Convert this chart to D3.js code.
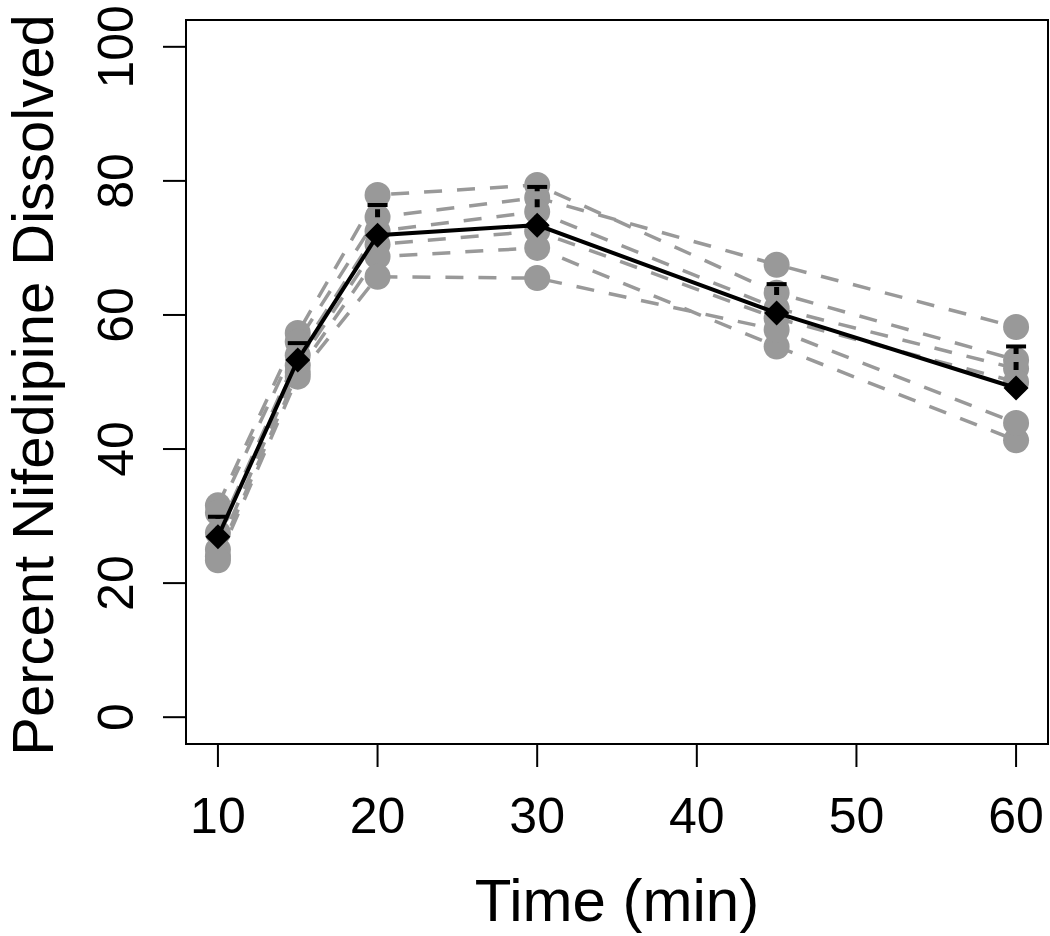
<!DOCTYPE html>
<html>
<head>
<meta charset="utf-8">
<script src="https://cdn.jsdelivr.net/npm/d3@7"></script>
<style>
  html, body { margin: 0; padding: 0; background: #fff; }
  svg { display: block; }
  text { font-family: "Liberation Sans", Arial, sans-serif; fill: #000; }
</style>
</head>
<body>
<svg id="chart" width="1050" height="936"></svg>
<script>
// ---- data ----
const times = [10, 15, 20, 30, 45, 60];
const tablet1 = [31.6, 57.3, 77.9, 79.4, 63.3, 53.3];
const tablet2 = [30.5, 56.0, 74.6, 77.5, 67.5, 58.2];
const tablet3 = [27.5, 54.0, 72.5, 75.4, 61.0, 52.0];
const tablet4 = [25.0, 52.5, 70.5, 72.5, 59.5, 50.0];
const tablet5 = [24.0, 51.5, 68.7, 70.0, 55.3, 41.3];
const tablet6 = [23.4, 50.8, 65.7, 65.5, 57.8, 43.9];
const meanPct = [26.9, 53.3, 71.9, 73.4, 60.3, 49.1];
const sdPct   = [3.0, 2.5, 4.5, 5.7, 4.3, 6.2];
const xTicks = [10, 20, 30, 40, 50, 60];
const yTicks = [0, 20, 40, 60, 80, 100];
const xTitle = "Time (min)";
const yTitle = "Percent Nifedipine Dissolved";

const tablets = [tablet1, tablet2, tablet3, tablet4, tablet5, tablet6];

(function () {
  // ---- layout ----
  const svg = d3.select("#chart");
  const pL = 186, pR = 1048, pT = 20, pB = 744;
  const x = d3.scaleLinear().domain([8, 62]).range([pL, pR]);
  const y = d3.scaleLinear().domain([-4, 104]).range([pB, pT]);

  const grey = "#999999";

  // individual tablets: dashed lines + circles
  const lineGen = d3.line().x(d => x(d[0])).y(d => y(d[1]));
  const gT = svg.append("g");
  tablets.forEach(vals => {
    const pts = times.map((t, i) => [t, vals[i]]);
    gT.append("path")
      .attr("d", lineGen(pts))
      .attr("fill", "none")
      .attr("stroke", grey)
      .attr("stroke-width", 3.5)
      .attr("stroke-dasharray", "18 15");
  });
  tablets.forEach(vals => {
    gT.selectAll(null)
      .data(times.map((t, i) => [t, vals[i]]))
      .enter().append("circle")
      .attr("cx", d => x(d[0]))
      .attr("cy", d => y(d[1]))
      .attr("r", 13)
      .attr("fill", grey);
  });

  // mean line
  const meanPts = times.map((t, i) => [t, meanPct[i]]);
  svg.append("path")
    .attr("d", lineGen(meanPts))
    .attr("fill", "none")
    .attr("stroke", "#000")
    .attr("stroke-width", 4);

  // error bars (mean to mean + SD)
  const gE = svg.append("g");
  times.forEach((t, i) => {
    const y0 = y(meanPct[i]), y1 = y(meanPct[i] + sdPct[i]);
    gE.append("line")
      .attr("x1", x(t)).attr("x2", x(t))
      .attr("y1", y0).attr("y2", y1)
      .attr("stroke", "#000").attr("stroke-width", 5)
      .attr("stroke-dasharray", "8 8").attr("stroke-dashoffset", 14);
    gE.append("line")
      .attr("x1", x(t) - 10).attr("x2", x(t) + 10)
      .attr("y1", y1).attr("y2", y1)
      .attr("stroke", "#000").attr("stroke-width", 4);
  });

  // mean diamonds
  const dsz = 12.5;
  svg.append("g").selectAll("path")
    .data(meanPts).enter().append("path")
    .attr("d", d => {
      const cx = x(d[0]), cy = y(d[1]);
      return `M${cx},${cy - dsz}L${cx + dsz},${cy}L${cx},${cy + dsz}L${cx - dsz},${cy}Z`;
    })
    .attr("fill", "#000");

  // box
  svg.append("rect")
    .attr("x", pL).attr("y", pT)
    .attr("width", pR - pL).attr("height", pB - pT)
    .attr("fill", "none").attr("stroke", "#000").attr("stroke-width", 2);

  // x axis
  const gx = svg.append("g");
  gx.selectAll("line").data(xTicks).enter().append("line")
    .attr("x1", d => x(d)).attr("x2", d => x(d))
    .attr("y1", pB).attr("y2", pB + 23)
    .attr("stroke", "#000").attr("stroke-width", 2);
  gx.selectAll("text").data(xTicks).enter().append("text")
    .attr("x", d => x(d)).attr("y", 833)
    .attr("text-anchor", "middle")
    .attr("font-size", 50)
    .text(d => d);

  // y axis
  const gy = svg.append("g");
  gy.selectAll("line").data(yTicks).enter().append("line")
    .attr("x1", pL - 23).attr("x2", pL)
    .attr("y1", d => y(d)).attr("y2", d => y(d))
    .attr("stroke", "#000").attr("stroke-width", 2);
  gy.selectAll("text").data(yTicks).enter().append("text")
    .attr("transform", d => `translate(133,${y(d)}) rotate(-90)`)
    .attr("text-anchor", "middle")
    .attr("font-size", 50)
    .text(d => d);

  // titles
  svg.append("text")
    .attr("x", (pL + pR) / 2).attr("y", 921)
    .attr("text-anchor", "middle")
    .attr("font-size", 60)
    .text(xTitle);
  svg.append("text")
    .attr("transform", `translate(53,385) rotate(-90)`)
    .attr("text-anchor", "middle")
    .attr("font-size", 58)
    .text(yTitle);
})();
</script>
</body>
</html>
